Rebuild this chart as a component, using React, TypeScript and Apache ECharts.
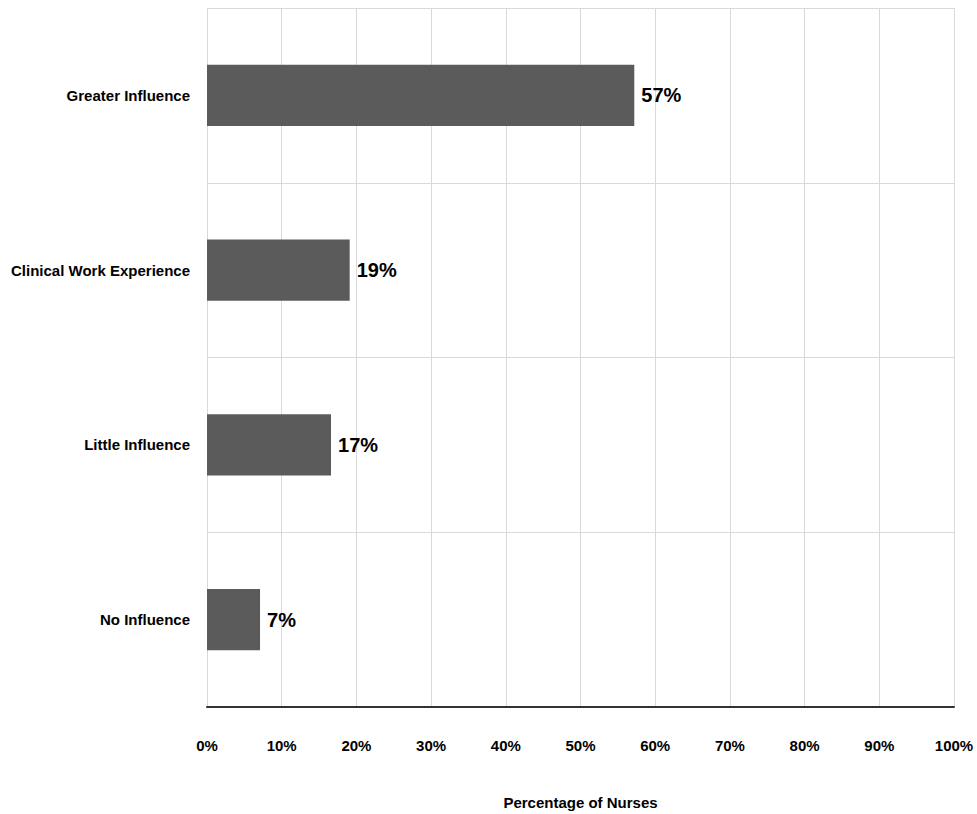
import React, { useEffect, useRef } from "react";
import * as echarts from "echarts";

const categories = ["Greater Influence", "Clinical Work Experience", "Little Influence", "No Influence"];
const values = [57.2, 19.1, 16.6, 7.1];
const labels = ["57%", "19%", "17%", "7%"];
const xTicks = [0, 10, 20, 30, 40, 50, 60, 70, 80, 90, 100];

const FONT = "'Liberation Sans', Arial, sans-serif";

export default function App() {
  const ref = useRef<HTMLDivElement>(null);
  useEffect(() => {
    document.body.style.margin = "0";
    const chart = echarts.init(ref.current!, null, { renderer: "svg" });
    chart.setOption({
      animation: false,
      backgroundColor: "#ffffff",
      grid: {
        left: 207,
        right: 23,
        top: 8,
        bottom: 107,
        containLabel: false,
        outerBoundsMode: "none",
      },
      xAxis: {
        type: "value",
        min: 0,
        max: 100,
        interval: 10,
        name: "Percentage of Nurses",
        nameLocation: "middle",
        nameGap: 88,
        nameTextStyle: { fontFamily: FONT, fontWeight: "bold", fontSize: 15, color: "#000" },
        axisLine: { show: true, lineStyle: { color: "#333333", width: 2 } },
        axisTick: { show: false },
        axisLabel: {
          formatter: (v: number) => (xTicks.includes(v) ? v + "%" : ""),
          fontFamily: FONT,
          fontWeight: "bold",
          fontSize: 15,
          color: "#000",
          margin: 31,
        },
        splitLine: { show: true, lineStyle: { color: "#d9d9d9", width: 1 } },
      },
      yAxis: {
        type: "category",
        inverse: true,
        data: categories,
        axisLine: { show: false },
        axisTick: { show: false },
        axisLabel: {
          fontFamily: FONT,
          fontWeight: "bold",
          fontSize: 15,
          color: "#000",
          margin: 17,
        },
        splitLine: { show: true, lineStyle: { color: "#d9d9d9", width: 1 } },
      },
      series: [
        {
          type: "bar",
          data: values,
          barWidth: "35%",
          itemStyle: { color: "#5b5b5b" },
          label: {
            show: true,
            position: "right",
            distance: 7,
            formatter: (p: any) => labels[p.dataIndex],
            fontFamily: FONT,
            fontWeight: "bold",
            fontSize: 20,
            color: "#000",
          },
        },
      ],
    });
    return () => chart.dispose();
  }, []);
  return <div ref={ref} style={{ width: 977, height: 814 }} />;
}
